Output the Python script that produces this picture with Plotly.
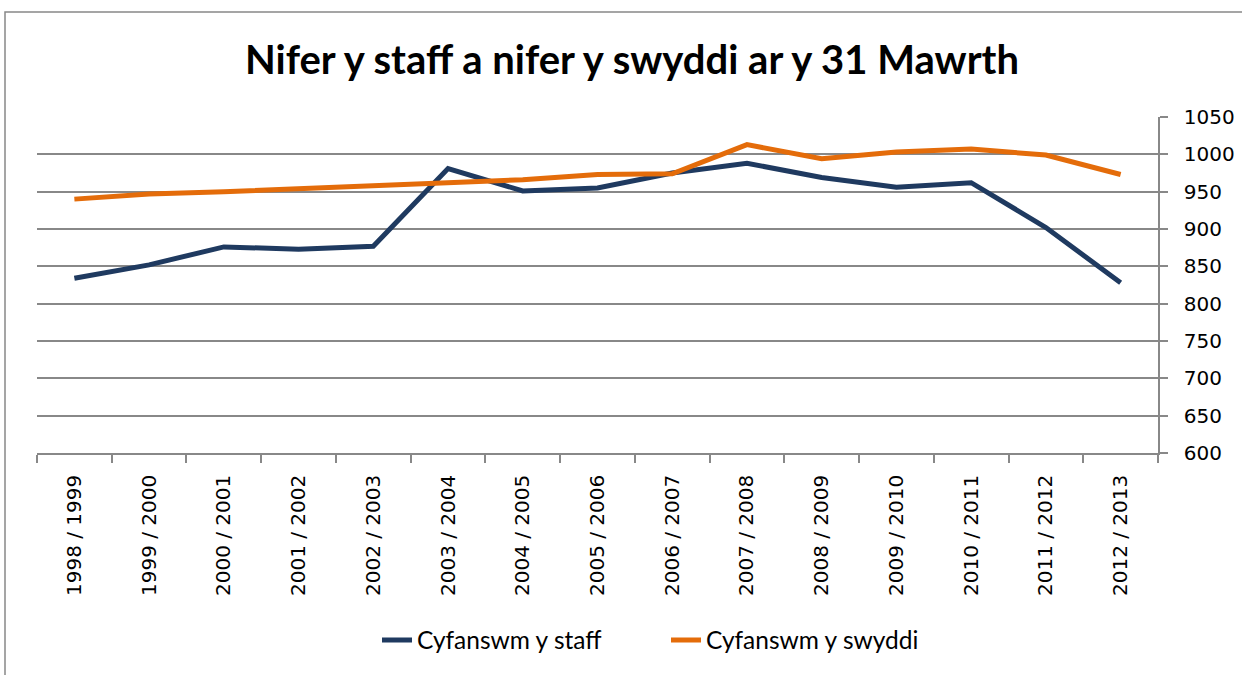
import plotly.graph_objects as go

categories = ["1998 / 1999", "1999 / 2000", "2000 / 2001", "2001 / 2002", "2002 / 2003",
              "2003 / 2004", "2004 / 2005", "2005 / 2006", "2006 / 2007", "2007 / 2008",
              "2008 / 2009", "2009 / 2010", "2010 / 2011", "2011 / 2012", "2012 / 2013"]
staff = [834, 852, 876, 873, 877, 981, 951, 955, 975, 988, 969, 956, 962, 902, 828]
swyddi = [940, 947, 950, 954, 958, 963, 966, 973, 974, 1013, 994, 1003, 1007, 999, 973]
y_ticks = [600, 650, 700, 750, 800, 850, 900, 950, 1000, 1050]

fig = go.Figure()
fig.add_trace(go.Scatter(x=categories, y=staff, mode="lines", name="Cyfanswm y staff",
                         line=dict(color="#1F3A60", width=5)))
fig.add_trace(go.Scatter(x=categories, y=swyddi, mode="lines", name="Cyfanswm y swyddi",
                         line=dict(color="#E46C0A", width=5)))

L, R, T, B = 37, 84, 117, 222
W, H = 1242, 675
pw, ph = W - L - R, H - T - B

def px_x(x):
    return (x - L) / pw

def px_y(y):
    return (H - B - y) / ph

tick_font = dict(family="DejaVu Sans", size=20, color="black")

fig.update_layout(
    width=W, height=H,
    margin=dict(l=L, r=R, t=T, b=B, autoexpand=False),
    paper_bgcolor="white", plot_bgcolor="white",
    title=dict(text="<b>Nifer y staff a nifer y swyddi ar y 31 Mawrth</b>",
               xref="container", x=632 / W, xanchor="center", y=1 - 60 / H, yanchor="middle",
               font=dict(family="Lato", size=40, color="black")),
    showlegend=True,
    legend=dict(orientation="h", x=px_x(377), xanchor="left", y=px_y(640), yanchor="middle",
                font=dict(family="Lato", size=24.5, color="black"),
                bgcolor="rgba(0,0,0,0)", entrywidth=244, entrywidthmode="pixels",
                tracegroupgap=0),
    xaxis=dict(type="category", tickangle=-90, tickson="boundaries", ticks="outside",
               ticklen=8, tickcolor="#888888", tickwidth=1.5,
               showline=True, linecolor="#888888", linewidth=1.5,
               showgrid=False, tickfont=tick_font, ticklabelstandoff=12,
               range=[-0.5, 14.5]),
    yaxis=dict(side="right", range=[600, 1050], tickvals=y_ticks, ticks="outside",
               ticklen=8, tickcolor="#888888", tickwidth=1.5,
               showline=True, linecolor="#888888", linewidth=1.5,
               showgrid=True, gridcolor="#888888", gridwidth=1.5, zeroline=False,
               tickfont=tick_font, ticklabelstandoff=12),
    shapes=[dict(type="rect", xref="paper", yref="paper",
                 x0=px_x(5), x1=px_x(1260), y0=px_y(700), y1=px_y(12),
                 line=dict(color="#888888", width=1.5), fillcolor="rgba(0,0,0,0)", layer="below")],
)

fig.write_html("out.html", config={"displayModeBar": False},
               post_script="document.body.style.margin='0';document.body.style.overflow='hidden';")
